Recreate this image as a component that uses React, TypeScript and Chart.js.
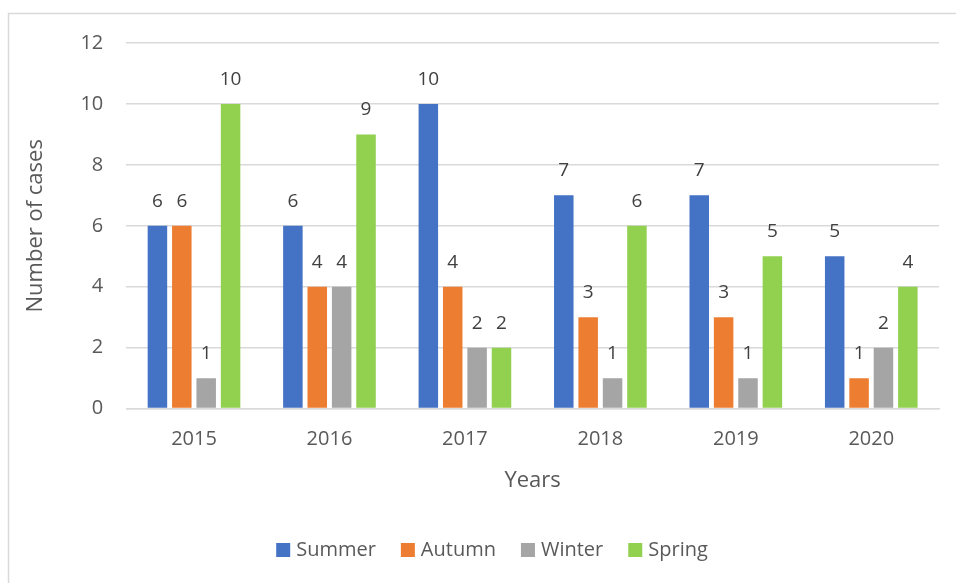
import React, { useEffect, useRef } from "react";
import { Chart, registerables } from "chart.js";

Chart.register(...registerables);

const years = ["2015", "2016", "2017", "2018", "2019", "2020"];
const summer = [6, 6, 10, 7, 7, 5];
const autumn = [6, 4, 4, 3, 3, 1];
const winter = [1, 4, 2, 1, 1, 2];
const spring = [10, 9, 2, 6, 5, 4];

const FONT = "'Open Sans', 'Noto Sans', sans-serif";
const TEXT = "#595959";

const borderPlugin = {
  id: "outerBorder",
  beforeDraw(chart: any) {
    const ctx = chart.ctx;
    ctx.save();
    ctx.fillStyle = "#ffffff";
    ctx.fillRect(0, 0, chart.width, chart.height);
    ctx.strokeStyle = "#D9D9D9";
    ctx.lineWidth = 1.5;
    ctx.strokeRect(8.5, 13.5, chart.width + 20, chart.height + 20);
    ctx.restore();
  },
};

const labelPlugin = {
  id: "valueLabels",
  afterDatasetsDraw(chart: any) {
    const ctx = chart.ctx;
    ctx.save();
    ctx.fillStyle = "#404040";
    ctx.font = `19px ${FONT}`;
    ctx.textAlign = "center";
    ctx.textBaseline = "bottom";
    chart.data.datasets.forEach((ds: any, i: number) => {
      const meta = chart.getDatasetMeta(i);
      meta.data.forEach((bar: any, j: number) => {
        ctx.fillText(String(ds.data[j]), bar.x, bar.y - 15);
      });
    });
    ctx.restore();
  },
};

const legendPlugin = {
  id: "customLegend",
  afterDraw(chart: any) {
    const ctx = chart.ctx;
    ctx.save();
    ctx.font = `20px ${FONT}`;
    ctx.textBaseline = "middle";
    ctx.textAlign = "left";
    const box = 14;
    const gapText = 6;
    const gapItem = 25;
    const items = chart.data.datasets.map((ds: any) => ({
      label: ds.label,
      color: ds.backgroundColor,
      w: ctx.measureText(ds.label).width,
    }));
    const total =
      items.reduce((s: number, it: any) => s + box + gapText + it.w, 0) + gapItem * (items.length - 1);
    let x = chart.width / 2 + 14 - total / 2;
    const y = 550;
    items.forEach((it: any) => {
      ctx.fillStyle = it.color;
      ctx.fillRect(x, y - box / 2, box, box);
      x += box + gapText;
      ctx.fillStyle = TEXT;
      ctx.fillText(it.label, x, y);
      x += it.w + gapItem;
    });
    ctx.restore();
  },
};

export default function App() {
  const ref = useRef<HTMLCanvasElement>(null);
  useEffect(() => {
    document.body.style.margin = "0";
    const common = { categoryPercentage: 0.72, barPercentage: 0.8, borderWidth: 0 };
    const chart = new Chart(ref.current!, {
      type: "bar",
      data: {
        labels: years,
        datasets: [
          { label: "Summer", data: summer, backgroundColor: "#4472C4", ...common },
          { label: "Autumn", data: autumn, backgroundColor: "#ED7D31", ...common },
          { label: "Winter", data: winter, backgroundColor: "#A5A5A5", ...common },
          { label: "Spring", data: spring, backgroundColor: "#92D050", ...common },
        ],
      },
      options: {
        animation: false,
        responsive: false,
        layout: { padding: { left: 19, right: 17, top: 43, bottom: 64 } },
        plugins: {
          tooltip: { enabled: false },
          legend: { display: false },
        },
        scales: {
          x: {
            grid: { display: false },
            border: { display: true, color: "#D9D9D9", width: 1.5 },
            ticks: { color: TEXT, font: { family: FONT, size: 20 }, padding: 11 },
            title: {
              display: true,
              text: "Years",
              color: TEXT,
              font: { family: FONT, size: 22 },
              padding: { top: 5, bottom: 25 },
            },
          },
          y: {
            min: 0,
            max: 12,
            ticks: { stepSize: 2, color: TEXT, font: { family: FONT, size: 20 }, padding: 23 },
            grid: { color: "#D9D9D9", lineWidth: 1.5, drawTicks: false },
            border: { display: false },
            title: {
              display: true,
              text: "Number of cases",
              color: TEXT,
              font: { family: FONT, size: 22 },
              padding: { bottom: 8 },
            },
          },
        },
      },
      plugins: [borderPlugin, labelPlugin, legendPlugin],
    });
    return () => chart.destroy();
  }, []);
  return <canvas ref={ref} width={956} height={583} style={{ display: "block" }} />;
}
